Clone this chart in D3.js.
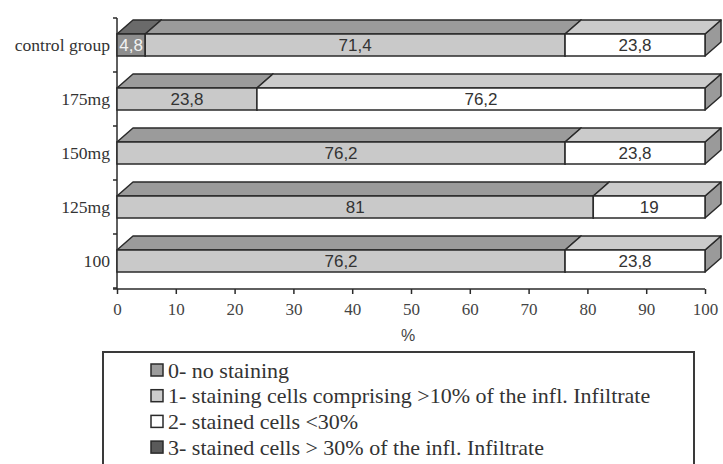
<!DOCTYPE html>
<html>
<head>
<meta charset="utf-8">
<script src="https://cdn.jsdelivr.net/npm/d3@7"></script>
<style>
  body { margin: 0; background: #fff; }
  svg { display: block; }
</style>
</head>
<body>
<svg id="vis"></svg>
<script>
const WIDTH = 723;
const HEIGHT = 464;

// data, top to bottom
const groups = ["control group", "175mg", "150mg", "125mg", "100"];
const s0 = [4.8, 0, 0, 0, 0];       // 0- no staining
const s1 = [71.4, 23.8, 76.2, 81, 76.2]; // 1- staining >10%
const s2 = [23.8, 76.2, 23.8, 19, 23.8]; // 2- stained <30%
const s3 = [0, 0, 0, 0, 0];         // 3- stained >30%
const seriesNames = [
  "0- no staining",
  "1- staining cells comprising >10% of the infl. Infiltrate",
  "2- stained cells <30%",
  "3- stained cells > 30% of the infl. Infiltrate"
];
const xTicks = [0, 10, 20, 30, 40, 50, 60, 70, 80, 90, 100];

const front = ["#8e8e8e", "#c9c9c9", "#ffffff", "#555555"];
const top_ = ["#6a6a6a", "#9b9b9b", "#cbcbcb", "#3d3d3d"];
const side = ["#555555", "#7a7a7a", "#9a9a9a", "#333333"];
const legendFill = ["#9c9c9c", "#cdcdcd", "#ffffff", "#5a5a5a"];
const textFill = ["#f2f2f2", "#333333", "#333333", "#ffffff"];

const SERIF = "'Liberation Serif', 'Times New Roman', serif";
const SANS = "'Liberation Sans', Arial, sans-serif";
const STROKE = "#2a2a2a";
const DX = 16, DY = 14, BAR_H = 22;

const SVG = d3.select("#vis").attr("width", WIDTH).attr("height", HEIGHT);

const x = d3.scaleLinear().domain([0, 100]).range([117, 705]);
const y = d3.scaleBand().domain(groups).range([18, 288]);

// stack the series
const table = groups.map((g, i) => ({ group: g, 0: s0[i], 1: s1[i], 2: s2[i], 3: s3[i] }));
const stacked = d3.stack().keys([0, 1, 2, 3])(table);

// axes
SVG.append("line")
  .attr("x1", x(0)).attr("x2", x(0))
  .attr("y1", y.range()[0]).attr("y2", y.range()[1] + 1)
  .attr("stroke", STROKE).attr("stroke-width", 1.5);
SVG.selectAll(".ytick")
  .data(d3.range(groups.length + 1))
  .enter().append("line")
  .attr("x1", x(0) - 4).attr("x2", x(0))
  .attr("y1", (d) => y.range()[0] + d * y.step())
  .attr("y2", (d) => y.range()[0] + d * y.step())
  .attr("stroke", STROKE).attr("stroke-width", 1.5);

const xAxis = SVG.append("g")
  .attr("transform", `translate(0, ${y.range()[1] + 1})`)
  .call(d3.axisBottom(x).tickValues(xTicks).tickSize(5).tickSizeOuter(0));
xAxis.select(".domain").attr("stroke", STROKE).attr("stroke-width", 1.5)
  .attr("d", `M${x(0) - 4},0H${x(100)}`);
xAxis.selectAll(".tick line").attr("stroke", STROKE).attr("stroke-width", 1.5);
xAxis.selectAll(".tick text")
  .attr("y", 14)
  .style("font-family", SERIF)
  .style("font-size", "17px")
  .attr("fill", "#444");

SVG.append("text")
  .attr("x", 408).attr("y", 341)
  .attr("text-anchor", "middle")
  .style("font-family", SANS)
  .style("font-size", "16px")
  .attr("fill", "#444")
  .text("%");

// category labels
SVG.selectAll(".cat")
  .data(groups)
  .enter().append("text")
  .attr("x", 110)
  .attr("y", (d) => y(d) + y.bandwidth() / 2)
  .attr("dy", "0.35em")
  .attr("text-anchor", "end")
  .style("font-family", SERIF)
  .style("font-size", "17.6px")
  .attr("fill", "#333")
  .text((d) => d);

// 3D bars
stacked.forEach((layer, k) => {
  const g = SVG.append("g").attr("class", "layer" + k);
  const segs = layer.filter((d) => d[1] - d[0] > 0);
  const fy = (d) => y(d.data.group) + (y.bandwidth() - BAR_H) / 2;

  g.selectAll(".side").data(segs).enter().append("path")
    .attr("d", (d) => {
      const xr = x(d[1]), yt = fy(d);
      return `M${xr},${yt}L${xr + DX},${yt - DY}L${xr + DX},${yt - DY + BAR_H}L${xr},${yt + BAR_H}Z`;
    })
    .attr("fill", side[k]).attr("stroke", STROKE).attr("stroke-width", 1.5)
    .attr("stroke-linejoin", "round");

  g.selectAll(".top").data(segs).enter().append("path")
    .attr("d", (d) => {
      const xl = x(d[0]), xr = x(d[1]), yt = fy(d);
      return `M${xl},${yt}L${xl + DX},${yt - DY}L${xr + DX},${yt - DY}L${xr},${yt}Z`;
    })
    .attr("fill", top_[k]).attr("stroke", STROKE).attr("stroke-width", 1.5)
    .attr("stroke-linejoin", "round");

  g.selectAll(".front").data(segs).enter().append("rect")
    .attr("x", (d) => x(d[0]))
    .attr("y", fy)
    .attr("width", (d) => x(d[1]) - x(d[0]))
    .attr("height", BAR_H)
    .attr("fill", front[k]).attr("stroke", STROKE).attr("stroke-width", 1.5);

  g.selectAll(".val").data(segs).enter().append("text")
    .attr("x", (d) => (x(d[0]) + x(d[1])) / 2)
    .attr("y", (d) => fy(d) + BAR_H / 2)
    .attr("dy", "0.36em")
    .attr("text-anchor", "middle")
    .style("font-family", SANS)
    .style("font-size", "17px")
    .attr("fill", textFill[k])
    .text((d) => String(+(d[1] - d[0]).toFixed(1)).replace(".", ","));
});

// legend
const legend = SVG.append("g");
legend.append("rect")
  .attr("x", 103).attr("y", 352)
  .attr("width", 591).attr("height", 130)
  .attr("fill", "#fff").attr("stroke", "#3a3a3a").attr("stroke-width", 2);

const items = legend.selectAll(".item")
  .data(seriesNames)
  .enter().append("g")
  .attr("transform", (d, i) => `translate(151, ${370 + i * 25.7})`);
items.append("rect")
  .attr("x", 0).attr("y", -6).attr("width", 12).attr("height", 12)
  .attr("fill", (d, i) => legendFill[i])
  .attr("stroke", STROKE).attr("stroke-width", 1.5);
items.append("text")
  .attr("x", 17).attr("dy", "0.35em")
  .style("font-family", SERIF)
  .style("font-size", "22px")
  .attr("fill", "#333")
  .text((d) => d);
</script>
</body>
</html>
